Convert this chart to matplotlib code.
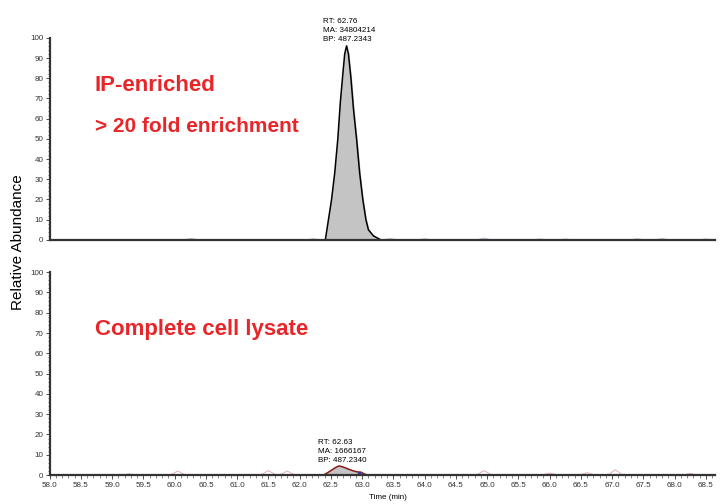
import matplotlib.pyplot as plt
from matplotlib.ticker import MultipleLocator, FormatStrFormatter

plt.rcParams['font.family'] = ['Liberation Sans', 'DejaVu Sans']

# IP-enriched trace (top)
rt_ip = [58.0, 62.30, 62.41, 62.51, 62.56, 62.61, 62.65, 62.69, 62.72, 62.75,
         62.78, 62.82, 62.86, 62.91, 62.96, 63.01, 63.06, 63.10, 63.18, 63.30, 68.65]
abund_ip = [0, 0, 0, 20, 33, 50, 68, 82, 92, 96,
            92, 80, 65, 50, 33, 20, 10, 5, 2, 0, 0]

# complete lysate trace (bottom)
rt_lys = [58.0, 62.38, 62.45, 62.52, 62.58, 62.63, 62.70, 62.78, 62.86, 62.93, 62.98, 63.03, 63.08, 68.65]
abund_lys = [0, 0, 1.2, 2.6, 3.8, 4.5, 3.9, 2.9, 2.0, 1.5, 1.4, 0.6, 0, 0]

# faint background bumps
noise_top_rt = [60.26, 62.22, 63.45, 64.0, 64.95, 65.85, 66.25, 67.4, 67.8, 68.5]
noise_top_h = [0.8, 0.6, 0.7, 0.6, 0.9, 0.5, 0.5, 0.6, 0.7, 0.5]
noise_bot_rt = [59.27, 60.05, 61.5, 61.8, 64.95, 66.0, 66.6, 67.05, 68.25]
noise_bot_h = [0.6, 2.0, 2.2, 2.0, 2.2, 1.0, 1.2, 2.6, 0.8]

red = '#e8262a'
fig = plt.figure(figsize=(7.21, 5.04), dpi=100)
ax1 = fig.add_axes([0.069, 0.524, 0.923, 0.401])
ax2 = fig.add_axes([0.069, 0.0575, 0.923, 0.4025])

for ax in (ax1, ax2):
    ax.set_xlim(58.0, 68.65)
    ax.set_ylim(0, 100)
    for s in ('top', 'right'):
        ax.spines[s].set_visible(False)
    for s in ('left', 'bottom'):
        ax.spines[s].set_linewidth(1.6)
        ax.spines[s].set_color('#333333')
    ax.yaxis.set_major_locator(MultipleLocator(10))
    ax.yaxis.set_minor_locator(MultipleLocator(2))
    ax.tick_params(axis='y', which='major', length=3, width=0.6, labelsize=5.8,
                   colors='#333333', pad=1.5)
    ax.tick_params(axis='y', which='minor', length=1.5, width=0.5, colors='#555555')

ax1.tick_params(axis='x', which='both', bottom=False, labelbottom=False)
ax2.xaxis.set_major_locator(MultipleLocator(0.5))
ax2.xaxis.set_minor_locator(MultipleLocator(0.1))
ax2.xaxis.set_major_formatter(FormatStrFormatter('%.1f'))
ax2.tick_params(axis='x', which='major', length=3, width=0.6, labelsize=5.8,
                colors='#333333', pad=2)
ax2.tick_params(axis='x', which='minor', length=2, width=0.5, colors='#555555')

# background noise
for t, h in zip(noise_top_rt, noise_top_h):
    ax1.plot([t - 0.12, t, t + 0.12], [0, h, 0], color='#b8bcd0', lw=0.7)
for t, h in zip(noise_bot_rt, noise_bot_h):
    ax2.plot([t - 0.12, t, t + 0.12], [0, h, 0], color='#e0b0b0', lw=0.7)

ax1.fill_between(rt_ip, abund_ip, color='#c4c4c4')
ax1.plot(rt_ip, abund_ip, color='black', lw=1.1)
ax2.fill_between(rt_lys, abund_lys, color='#c4c4c4')
ax2.plot(rt_lys, abund_lys, color='#8b1a1a', lw=1.1)
ax2.plot([62.95], [1.0], marker='s', ms=2, color='#3a3aa0')

ax1.text(62.38, 97.5, 'RT: 62.76\nMA: 34804214\nBP: 487.2343', fontsize=5.8,
         va='bottom', ha='left', linespacing=1.4, clip_on=False)
ax2.text(62.3, 5.5, 'RT: 62.63\nMA: 1666167\nBP: 487.2340', fontsize=5.8,
         va='bottom', ha='left', linespacing=1.4)

ax1.text(58.72, 76.5, 'IP-enriched', color=red, fontsize=16, fontweight='bold',
         va='center')
ax1.text(58.72, 56, '> 20 fold enrichment', color=red, fontsize=15,
         fontweight='bold', va='center')
ax2.text(58.72, 71.5, 'Complete cell lysate', color=red, fontsize=16,
         fontweight='bold', va='center')

fig.text(0.025, 0.52, 'Relative Abundance', rotation=90, fontsize=11,
         ha='center', va='center')
fig.text(0.538, 0.012, 'Time (min)', fontsize=5.8, ha='center', va='center')

fig.savefig('out.png', dpi=100)
